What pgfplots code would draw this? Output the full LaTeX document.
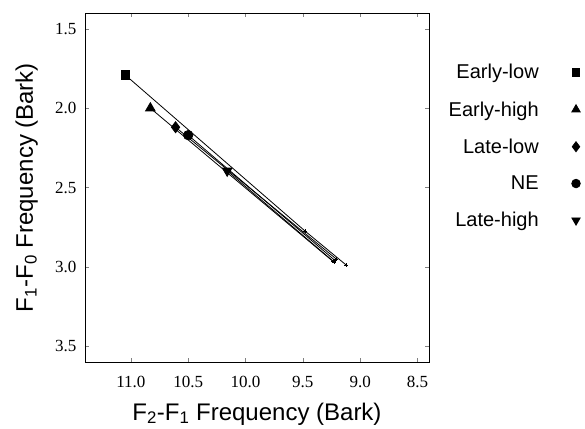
\documentclass[border=0pt]{standalone}
\usepackage{fontspec}
\setmainfont{Liberation Serif}
\setsansfont{Liberation Sans}
\usepackage{pgfplots}
\pgfplotsset{compat=1.18}

\begin{document}
\begin{tikzpicture}
\begin{axis}[
  scale only axis,
  width=344pt, height=349pt,
  x dir=reverse, y dir=reverse,
  xmin=8.4, xmax=11.4,
  ymin=1.4, ymax=3.6,
  xtick={8.5,9.0,...,11.0},
  ytick={1.5,2.0,...,3.5},
  minor tick num=0,
  tick align=inside,
  major tick length=4pt,
  xticklabel style={anchor=base, yshift=-25.5pt,
    /pgf/number format/.cd,fixed,fixed zerofill,precision=1},
  yticklabel style={xshift=-5pt,
    /pgf/number format/.cd,fixed,fixed zerofill,precision=1},
  /pgf/number format/assume math mode=true,
  tick label style={font=\fontsize{17}{20}\selectfont},
  xlabel={F\textsubscript{2}-F\textsubscript{1} Frequency (Bark)},
  ylabel={F\textsubscript{1}-F\textsubscript{0} Frequency (Bark)},
  every axis x label/.style={at={(axis description cs:0.5,0)}, anchor=base,
    yshift=-58pt, font=\sffamily\fontsize{24}{28}\selectfont},
  every axis y label/.style={at={(axis description cs:0,0.5)}, xshift=-52pt,
    rotate=90, anchor=base, font=\sffamily\fontsize{24}{28}\selectfont},
  axis line style={line width=0.8pt},
  legend plot pos=right,
  legend cell align=right,
  legend style={draw=none, fill=none, at={(1.4492,0.865)}, anchor=north east,
    font=\sffamily\fontsize{20}{23}\selectfont, row sep=17.2pt,
    /tikz/every odd column/.append style={column sep=31pt}},
  every axis plot/.append style={black, line width=0.8pt},
]
% Early-low
\addplot[mark=square*, mark size=4.2pt, mark indices={1}, forget plot] coordinates {(11.05,1.79) (9.48,2.775) (9.12,2.99)};
\addplot[only marks, mark=+, mark size=2pt, line width=0.6pt, forget plot] coordinates {(9.48,2.775) (9.12,2.99)};
% Early-high
\addplot[mark=triangle*, mark size=5.5pt, mark indices={1}, forget plot] coordinates {(10.83,2.0) (9.23,2.97)};
\addplot[only marks, mark=+, mark size=2pt, line width=0.6pt, forget plot] coordinates {(9.23,2.97)};
% Late-low
\addplot[mark=diamond*, mark size=5.5pt, mark indices={1}, forget plot] coordinates {(10.61,2.12) (9.21,2.95)};
\addplot[only marks, mark=+, mark size=2pt, line width=0.6pt, forget plot] coordinates {(9.21,2.95)};
% NE
\addplot[mark=*, mark size=4.7pt, mark indices={1}, forget plot] coordinates {(10.50,2.17) (9.22,2.96)};
\addplot[only marks, mark=+, mark size=2pt, line width=0.6pt, forget plot] coordinates {(9.22,2.96)};
% Late-high
\addplot[mark=triangle*, mark options={rotate=180}, mark size=5.5pt, mark indices={1}, forget plot] coordinates {(10.16,2.395) (9.235,2.965)};
\addplot[only marks, mark=+, mark size=2pt, line width=0.6pt, forget plot] coordinates {(9.235,2.965)};

\addlegendimage{only marks, black, mark=square*, mark size=3.8pt}
\addlegendentry{Early-low}
\addlegendimage{only marks, black, mark=triangle*, mark size=4.8pt}
\addlegendentry{Early-high}
\addlegendimage{only marks, black, mark=diamond*, mark size=5pt}
\addlegendentry{Late-low}
\addlegendimage{only marks, black, mark=*, mark size=4.3pt}
\addlegendentry{NE}
\addlegendimage{only marks, black, mark=triangle*, mark options={rotate=180}, mark size=4.8pt}
\addlegendentry{Late-high}
\end{axis}
\pgfresetboundingbox
\path ([xshift=-85pt,yshift=13pt]current axis.north west) rectangle ([xshift=156pt,yshift=-66pt]current axis.south east);
\end{tikzpicture}
\end{document}
